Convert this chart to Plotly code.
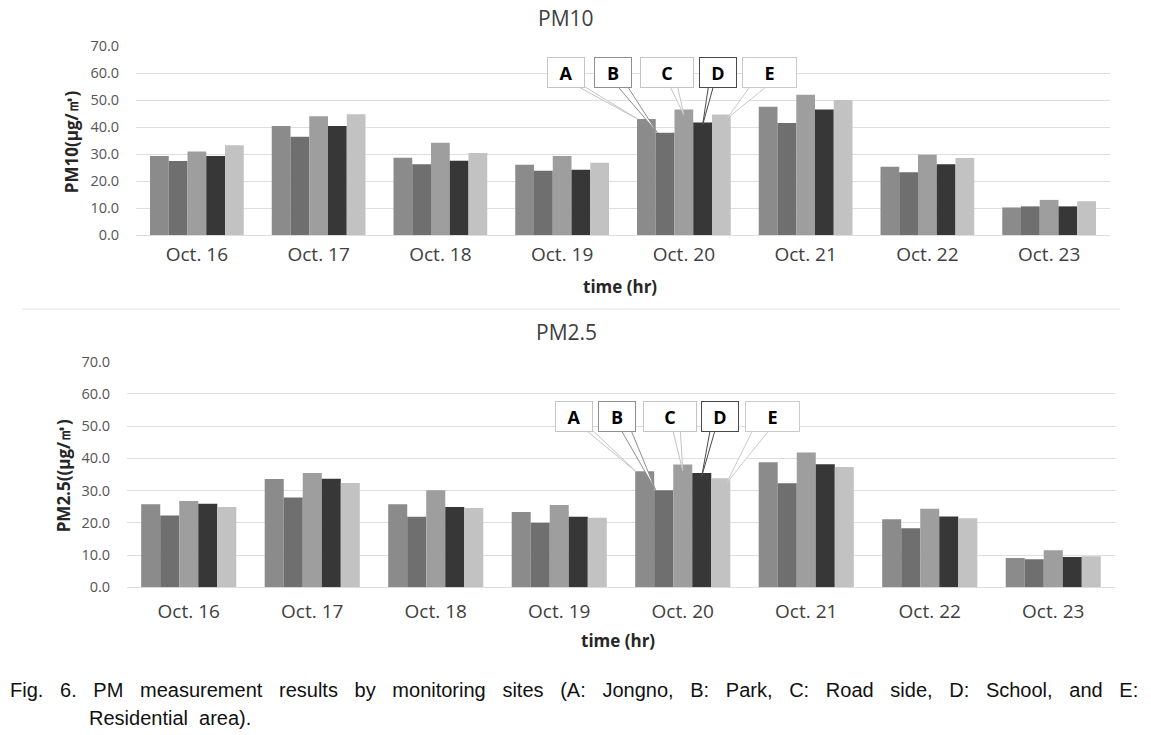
import plotly.graph_objects as go

# ---------------- data ----------------
dates = ["Oct. 16", "Oct. 17", "Oct. 18", "Oct. 19", "Oct. 20", "Oct. 21", "Oct. 22", "Oct. 23"]
sites = ["A", "B", "C", "D", "E"]

pm10_A = [29.3, 40.4, 28.6, 26.0, 43.0, 47.5, 25.3, 10.2]
pm10_B = [27.4, 36.4, 26.2, 23.8, 37.9, 41.5, 23.2, 10.6]
pm10_C = [30.9, 44.0, 34.2, 29.3, 46.5, 51.9, 29.7, 13.0]
pm10_D = [29.3, 40.4, 27.5, 24.2, 41.7, 46.5, 26.2, 10.6]
pm10_E = [33.2, 44.7, 30.4, 26.8, 44.6, 50.0, 28.5, 12.5]

pm25_A = [25.8, 33.6, 25.8, 23.4, 36.0, 38.8, 21.1, 9.1]
pm25_B = [22.3, 27.9, 21.9, 20.0, 30.1, 32.3, 18.3, 8.7]
pm25_C = [26.8, 35.5, 30.1, 25.5, 38.1, 41.8, 24.4, 11.5]
pm25_D = [25.9, 33.7, 24.9, 21.9, 35.5, 38.2, 22.0, 9.4]
pm25_E = [24.9, 32.4, 24.6, 21.6, 33.8, 37.3, 21.4, 9.6]

y_ticks = [0, 10, 20, 30, 40, 50, 60, 70]

# ---------------- styles ----------------
bar_colors = ["#8b8b8b", "#6f6f6f", "#9e9e9e", "#373737", "#c2c2c2"]
callout_border = ["#c4c4c4", "#8e8e8e", "#c4c4c4", "#4a4a4a", "#cacaca"]
BARGAP = 0.23
FONT = "Open Sans"
pos = list(range(len(dates)))

W, H = 1151, 735
fig = go.Figure()

pm10 = [pm10_A, pm10_B, pm10_C, pm10_D, pm10_E]
pm25 = [pm25_A, pm25_B, pm25_C, pm25_D, pm25_E]

for k, s in enumerate(sites):
    fig.add_trace(go.Bar(x=pos, y=pm10[k], name=s, marker=dict(color=bar_colors[k], line=dict(width=0)),
                         xaxis="x", yaxis="y", showlegend=False))
for k, s in enumerate(sites):
    fig.add_trace(go.Bar(x=pos, y=pm25[k], name=s, marker=dict(color=bar_colors[k], line=dict(width=0)),
                         xaxis="x2", yaxis="y2", showlegend=False))

# plot areas in pixels
top_px = dict(x0=136, x1=1110, y0=46, y1=235)
bot_px = dict(x0=127, x1=1115, y0=361.7, y1=587.3)


def dom(p):
    return [p["x0"] / W, p["x1"] / W], [1 - p["y1"] / H, 1 - p["y0"] / H]


tx, ty = dom(top_px)
bx, by = dom(bot_px)


def x_axis(ticklen):
    return dict(type="linear", range=[-0.5, len(dates) - 0.5], tickvals=pos, ticktext=dates,
                showgrid=False, zeroline=False, showline=False, automargin=False,
                ticks="outside", ticklen=ticklen, tickcolor="rgba(0,0,0,0)",
                tickfont=dict(family=FONT, size=19, color="#404040"), fixedrange=True)


axis_common_y = dict(range=[0, 70], tickvals=y_ticks, tickformat=".1f", automargin=False,
                     showgrid=True, gridcolor="#dedede", gridwidth=1,
                     zeroline=True, zerolinecolor="#dedede", zerolinewidth=1, showline=False,
                     ticks="outside", ticklen=13, tickcolor="rgba(0,0,0,0)",
                     tickfont=dict(family=FONT, size=14.5, color="#555555"), fixedrange=True)

fig.update_layout(
    width=W, height=H, autosize=False,
    margin=dict(l=0, r=0, t=0, b=0, pad=0, autoexpand=False),
    paper_bgcolor="white", plot_bgcolor="white",
    barmode="group", bargap=BARGAP, bargroupgap=0,
    hovermode=False, showlegend=False,
    xaxis=dict(domain=tx, anchor="y", **x_axis(2)),
    yaxis=dict(domain=ty, anchor="x", **axis_common_y),
    xaxis2=dict(domain=bx, anchor="y2", **x_axis(7)),
    yaxis2=dict(domain=by, anchor="x2", **axis_common_y),
)

# ---------------- callouts (Oct. 20) ----------------
bar_w = (1 - BARGAP) / len(sites)


def bar_center(j, k):
    return j - (1 - BARGAP) / 2 + (k + 0.5) * bar_w


callout_day = 4
box_w_px = [38, 38, 54, 38, 55]
box_h_px = 31
tail_base_frac = [(0.80, 0.97), (0.62, 0.88), (0.56, 0.70), (0.24, 0.37), (0.15, 0.45)]
tip_dx = [-0.48, -0.42, 0.0, 0.0, 0.3]  # in bar widths
tip_dy = [0.0, 0.0, -2.0, -1.0, -1.5]   # in value units

charts = [
    dict(xa="x", ya="y", px=top_px, vals=pm10, box_cx=[3.033, 3.418, 3.859, 4.283, 4.703], box_cy=60.2),
    dict(xa="x2", ya="y2", px=bot_px, vals=pm25, box_cx=[3.123, 3.464, 3.893, 4.302, 4.723], box_cy=53.0),
]

for ch in charts:
    ppc = (ch["px"]["x1"] - ch["px"]["x0"]) / len(dates)   # px per category
    ppv = (ch["px"]["y1"] - ch["px"]["y0"]) / 70.0          # px per value unit
    for k, s in enumerate(sites):
        cx = ch["box_cx"][k]
        cy = ch["box_cy"]
        wd = box_w_px[k] / ppc
        left = cx - wd / 2
        base_y = cy - (box_h_px / 2) / ppv + 0.6
        b0 = left + tail_base_frac[k][0] * wd
        b1 = left + tail_base_frac[k][1] * wd
        tipx = bar_center(callout_day, k) + tip_dx[k] * bar_w
        tipy = ch["vals"][k][callout_day] + tip_dy[k]
        fig.add_shape(type="path", xref=ch["xa"], yref=ch["ya"],
                      path=f"M {b0},{base_y} L {tipx},{tipy} L {b1},{base_y} Z",
                      fillcolor="white", line=dict(color=callout_border[k], width=1), layer="above")
        fig.add_annotation(x=cx, y=cy, xref=ch["xa"], yref=ch["ya"], text=f"<b>{s}</b>",
                           showarrow=False, width=box_w_px[k] - 2, height=box_h_px - 2,
                           bgcolor="white", bordercolor=callout_border[k], borderwidth=1, borderpad=0,
                           font=dict(family=FONT, size=18, color="black"), align="center", valign="middle")

# ---------------- titles ----------------
def ptext(x_px, y_px, text, size, bold=False, color="#404040", angle=0, family=FONT, xanchor="center"):
    fig.add_annotation(x=x_px / W, y=1 - y_px / H, xref="paper", yref="paper",
                       text=f"<b>{text}</b>" if bold else text, showarrow=False, textangle=angle,
                       xanchor=xanchor, yanchor="middle",
                       font=dict(family=family, size=size, color=color))


ptext(566, 18, "PM10", 21)
ptext(566, 332, "PM2.5", 21)
ptext(71.7, 141.5, "PM10(μg/㎥)", 17, bold=True, color="#262626", angle=-90)
ptext(63.3, 476, "PM2.5((μg/㎥)", 17, bold=True, color="#262626", angle=-90)
ptext(620, 286.7, "time (hr)", 17, bold=True, color="#262626")
ptext(618, 640, "time (hr)", 17, bold=True, color="#262626")

# separator line between the two charts
fig.add_shape(type="line", xref="paper", yref="paper", x0=22 / W, x1=1120 / W,
              y0=1 - 309 / H, y1=1 - 309 / H, line=dict(color="#e2e2e2", width=1))

# caption (justified first line, like the printed figure)
cap_font = "Liberation Sans, sans-serif"
cap_line1 = "Fig. 6. PM measurement results by monitoring sites (A: Jongno, B: Park, C: Road side, D: School, and E:"
cap_line2 = "Residential area)."
ptext(8, 690, cap_line1.replace(" ", " \u00a0\u00a0"), 20, color="#111111", family=cap_font, xanchor="left")
ptext(87, 718, cap_line2.replace(" ", " \u00a0"), 20, color="#111111", family=cap_font, xanchor="left")

fig.write_html(
    "out.html",
    config={"displayModeBar": False, "staticPlot": True},
    post_script=(
        "var d=document.getElementById('{plot_id}');"
        "d.style.position='fixed';d.style.top='0px';d.style.left='0px';"
        "document.body.style.margin='0';document.body.style.padding='0';"
        "document.body.style.height='735px';document.body.style.overflow='hidden';"
        "document.documentElement.style.height='735px';"
        "document.documentElement.style.overflow='hidden';"
    ),
)
